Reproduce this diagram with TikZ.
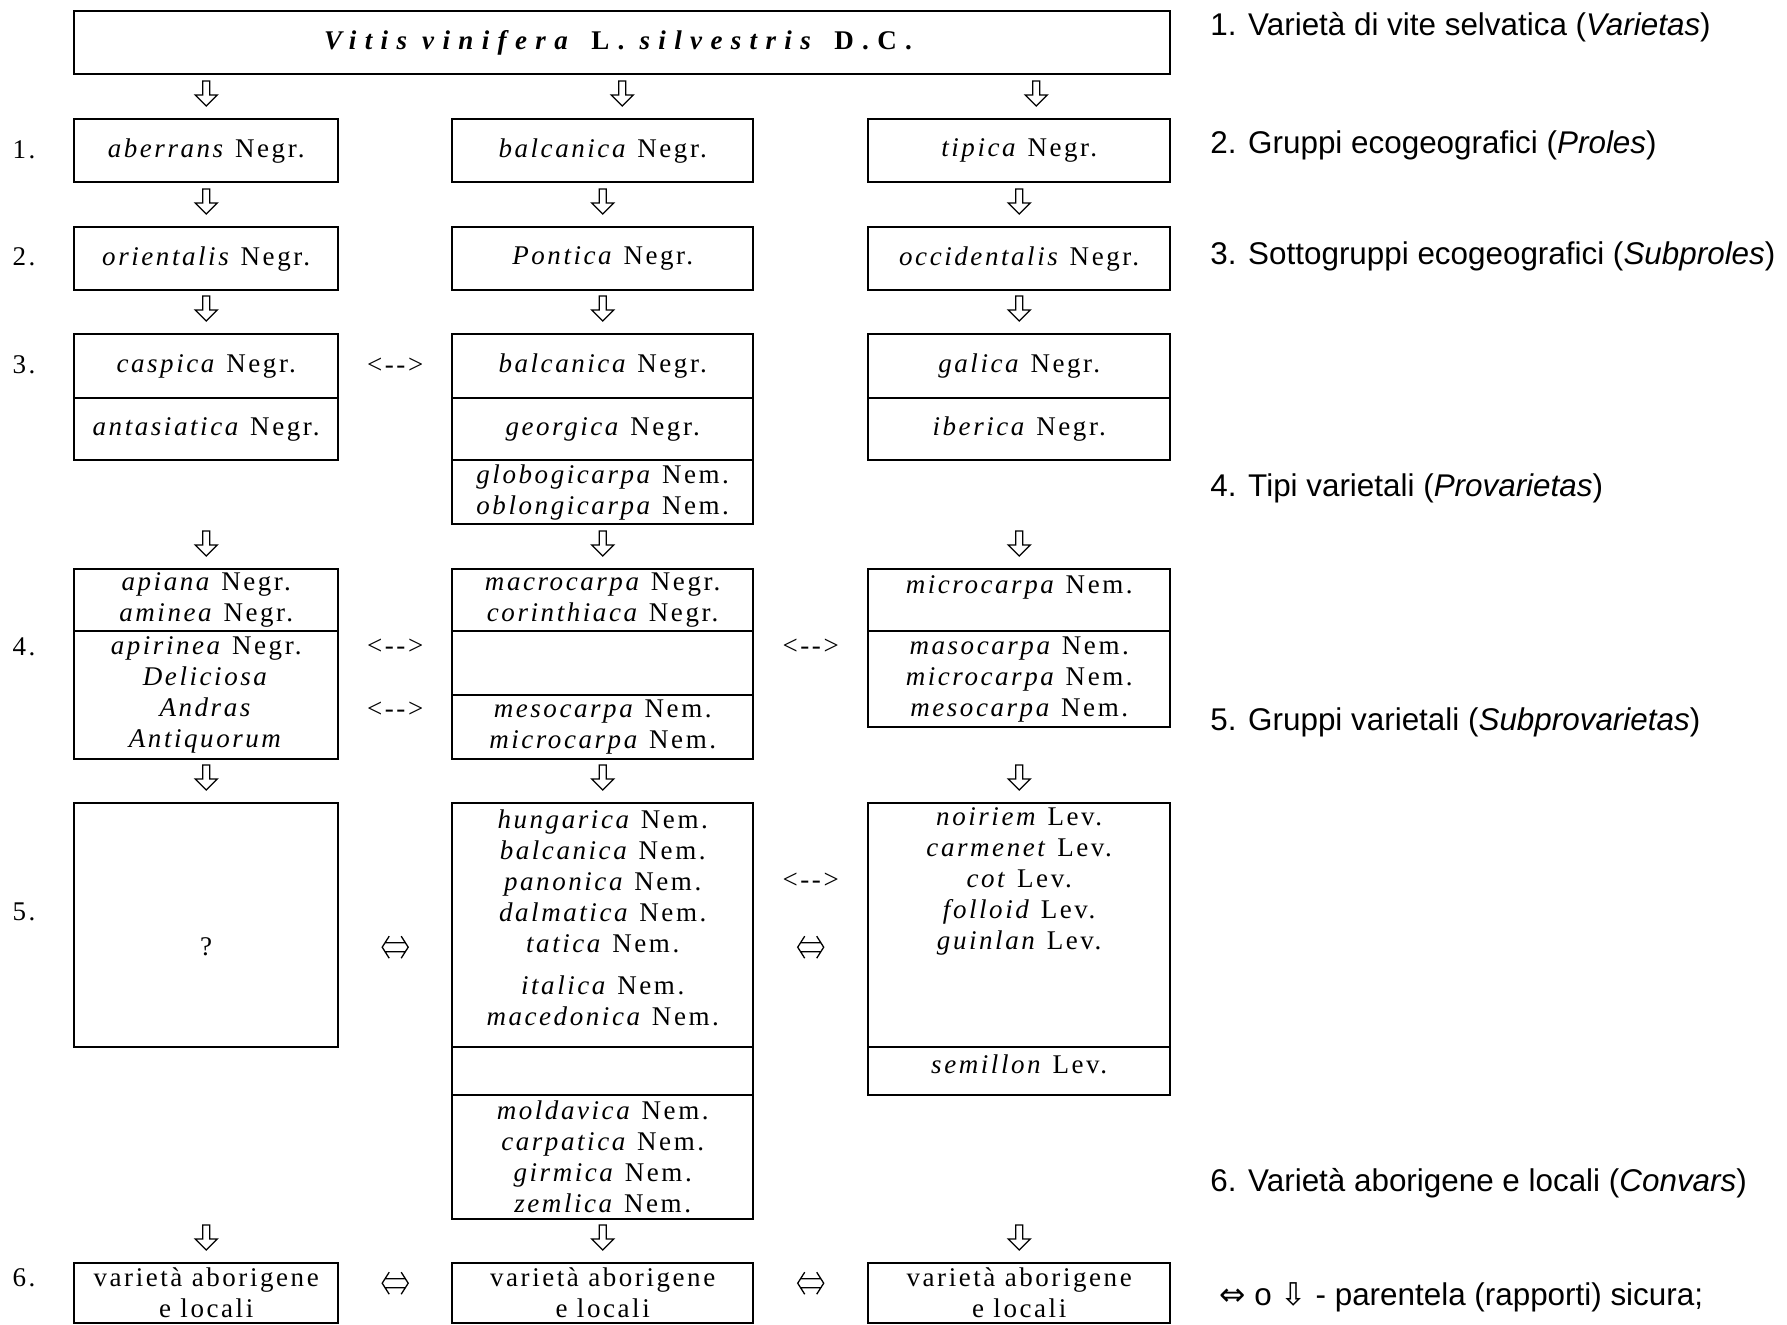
\documentclass[tikz,border=0pt]{standalone}
\usepackage{fontspec}
\setmainfont{Liberation Serif}
\newfontfamily\cellfont[LetterSpace=9.5]{Liberation Serif}
\newfontfamily\titlefont[LetterSpace=31]{Liberation Serif}
\newfontfamily\legfont{Liberation Sans}
\newfontfamily\symfont{DejaVu Sans}
\usetikzlibrary{calc}

\newcommand{\csize}{\fontsize{13.5}{15.5}\selectfont}

\begin{document}
\begin{tikzpicture}[x=0.5pt, y=-0.5pt,
    cell/.style={draw, line width=1.2pt, inner sep=0pt, anchor=north west,
      align=center, font=\cellfont\csize},
    colA/.style={cell, minimum width=132pt},
    colB/.style={cell, minimum width=150.5pt},
    colC/.style={cell, minimum width=151pt},
    rowlab/.style={inner sep=0pt, font=\cellfont\csize},
    hyp/.style={inner sep=0pt, font=\cellfont\csize},
    leg/.style={anchor=base west, inner sep=0pt,
      font=\legfont\fontsize{15.7}{18}\selectfont},
    arr/.style={line width=0.65pt, line join=miter},
    hdown/.style={to path={(\tikztotarget) ++(0,-12) -- ++(-11,-11) -- ++(7.5,0)
      -- ++(0,-14) -- ++(7,0) -- ++(0,14) -- ++(7.5,0) -- cycle}},
    hboth/.style={to path={($(\tikztostart)!.5!(\tikztotarget)$) coordinate (hb)
      (hb) ++(-6,-11) -- ++(-7,11) -- ++(7,11)
      (hb) ++(6,-11) -- ++(7,11) -- ++(-7,11)
      (hb) ++(-10,-4.5) -- ++(20,0)
      (hb) ++(-10,4.5) -- ++(20,0)}}
  ]
  \path[fill=white] (0,0) rectangle (1787,1325);

  % title box
  \node[cell, minimum width=548pt, minimum height=31.5pt, font=\titlefont\csize] (top) at (73,10)
    {\textbf{\textit{Vitis vinifera} L. \textit{silvestris} D.C.}};

  % level 1 and 2
  \node[colA, minimum height=31.5pt] (r1a) at (73,118) {\textit{aberrans} Negr.};
  \node[colB, minimum height=31.5pt] (r1b) at (451,118) {\textit{balcanica} Negr.};
  \node[colC, minimum height=31.5pt] (r1c) at (867,118) {\textit{tipica} Negr.};
  \node[colA, minimum height=31.5pt] (r2a) at (73,226) {\textit{orientalis} Negr.};
  \node[colB, minimum height=31.5pt] (r2b) at (451,226) {\textit{Pontica} Negr.};
  \node[colC, minimum height=31.5pt] (r2c) at (867,226) {\textit{occidentalis} Negr.};

  % level 3
  \node[colA, minimum height=32pt] (r3a1) at (73,333) {\textit{caspica} Negr.};
  \node[colA, minimum height=31pt] (r3a2) at (73,397) {\textit{antasiatica} Negr.};
  \node[colB, minimum height=32pt] (r3b1) at (451,333) {\textit{balcanica} Negr.};
  \node[colB, minimum height=31pt] (r3b2) at (451,397) {\textit{georgica} Negr.};
  \node[colB, minimum height=32pt] (r3b3) at (451,459)
    {\textit{globogicarpa} Nem.\\\textit{oblongicarpa} Nem.};
  \node[colC, minimum height=32pt] (r3c1) at (867,333) {\textit{galica} Negr.};
  \node[colC, minimum height=31pt] (r3c2) at (867,397) {\textit{iberica} Negr.};

  % level 4
  \node[colA, minimum height=31pt] (r4a1) at (73,568)
    {\textit{apiana} Negr.\\\textit{aminea} Negr.};
  \node[colA, minimum height=64pt] (r4a2) at (73,630)
    {\textit{apirinea} Negr.\\\textit{Deliciosa}\\\textit{Andras}\\\textit{Antiquorum}};
  \node[colB, minimum height=31pt] (r4b1) at (451,568)
    {\textit{macrocarpa} Negr.\\\textit{corinthiaca} Negr.};
  \node[colB, minimum height=32pt] (r4b2) at (451,630) {};
  \node[colB, minimum height=32pt] (r4b3) at (451,694)
    {\textit{mesocarpa} Nem.\\\textit{microcarpa} Nem.};
  \node[colC, minimum height=31pt] (r4c1) at (867,568) {\textit{microcarpa} Nem.\\~};
  \node[colC, minimum height=48pt] (r4c2) at (867,630)
    {\textit{masocarpa} Nem.\\\textit{microcarpa} Nem.\\\textit{mesocarpa} Nem.};

  % level 5
  \node[colA, minimum height=122pt] (r5a) at (73,802) {~\\[15pt]?};
  \node[colB, minimum height=122pt] (r5b1) at (451,802)
    {\textit{hungarica} Nem.\\\textit{balcanica} Nem.\\\textit{panonica} Nem.\\
     \textit{dalmatica} Nem.\\\textit{tatica} Nem.\\[5.5pt]\textit{italica} Nem.\\
     \textit{macedonica} Nem.\\[-8pt]~};
  \node[colB, minimum height=24pt] (r5b2) at (451,1046) {};
  \node[colB, minimum height=62pt] (r5b3) at (451,1094)
    {\textit{moldavica} Nem.\\\textit{carpatica} Nem.\\\textit{girmica} Nem.\\\textit{zemlica} Nem.};
  \node[colC, minimum height=122pt] (r5c1) at (867,802)
    {\textit{noiriem} Lev.\\\textit{carmenet} Lev.\\\textit{cot} Lev.\\\textit{folloid} Lev.\\
     \textit{guinlan} Lev.\\~\\~\\~};
  \node[colC, minimum height=24pt, text depth=7pt] (r5c2) at (867,1046) {\textit{semillon} Lev.};

  % level 6
  \node[colA, minimum height=30pt] (r6a) at (73,1262) {varietà aborigene\\e locali};
  \node[colB, minimum height=30pt] (r6b) at (451,1262) {varietà aborigene\\e locali};
  \node[colC, minimum height=30pt] (r6c) at (867,1262) {varietà aborigene\\e locali};

  % level numbers
  \node[rowlab] (n1) at (24,150) {1.};
  \node[rowlab] (n2) at (24,257) {2.};
  \node[rowlab] (n3) at (24,365) {3.};
  \node[rowlab] (n4) at (24,647) {4.};
  \node[rowlab] (n5) at (24,912) {5.};
  \node[rowlab] (n6) at (24,1278) {6.};

  % certain descent
  \coordinate (tr) at ([xshift=207pt]top.south);
  \coordinate (a1b) at (top.south |- r1b.north);
  \coordinate (a1c) at (tr |- r1c.north);
  \draw[arr] (top.south) to[hdown] (r1a.north);
  \draw[arr] (top.south) to[hdown] (a1b);
  \draw[arr] (tr) to[hdown] (a1c);
  \foreach \c in {a,b,c} {
    \draw[arr] (r1\c.south) to[hdown] (r2\c.north);
    \draw[arr] (r2\c.south) to[hdown] (r3\c1.north);
  }
  \draw[arr] (r3a2.south) to[hdown] (r4a1.north);
  \draw[arr] (r3b3.south) to[hdown] (r4b1.north);
  \draw[arr] (r3c2.south) to[hdown] (r4c1.north);
  \draw[arr] (r4a2.south) to[hdown] (r5a.north);
  \draw[arr] (r4b3.south) to[hdown] (r5b1.north);
  \draw[arr] (r4c2.south) to[hdown] (r5c1.north);
  \draw[arr] (r5a.south) to[hdown] (r6a.north);
  \draw[arr] (r5b3.south) to[hdown] (r6b.north);
  \draw[arr] (r5c2.south) to[hdown] (r6c.north);
  \draw[arr] ([yshift=-11pt]r5a.east) to[hboth] ([yshift=-11pt]r5b1.west);
  \draw[arr] ([yshift=-11pt]r5b1.east) to[hboth] ([yshift=-11pt]r5c1.west);
  \draw[arr] ([yshift=5pt]r6a.east) to[hboth] ([yshift=5pt]r6b.west);
  \draw[arr] ([yshift=5pt]r6b.east) to[hboth] ([yshift=5pt]r6c.west);

  % hypothetical links
  \path (r3a1.east) -- node[hyp] {<-{}->} (r3b1.west);
  \path ([yshift=-8.5pt]r4a2.north east) -- node[hyp] {<-{}->} ([yshift=-8.5pt]r4b2.north west);
  \path ([yshift=-40pt]r4a2.north east) -- node[hyp] {<-{}->} ([yshift=-8pt]r4b3.north west);
  \path ([yshift=-8.5pt]r4b2.north east) -- node[hyp] {<-{}->} ([yshift=-8.5pt]r4c2.north west);
  \path ([yshift=-39.5pt]r5b1.north east) -- node[hyp] {<-{}->} ([yshift=-39.5pt]r5c1.north west);

  % legend
  \node[leg] (l1) at (1210,36) {1. Varietà di vite selvatica (\textit{Varietas})};
  \node[leg] (l2) at (1210,154) {2. Gruppi ecogeografici (\textit{Proles})};
  \node[leg] (l3) at (1210,265) {3. Sottogruppi ecogeografici (\textit{Subproles})};
  \node[leg] (l4) at (1210,497) {4. Tipi varietali (\textit{Provarietas})};
  \node[leg] (l5) at (1210,730) {5. Gruppi varietali (\textit{Subprovarietas})};
  \node[leg] (l6) at (1210,1191) {6. Varietà aborigene e locali (\textit{Convars})};
  \node[leg] (l7) at (1219,1305) {{\symfont ⇔} o {\symfont ⇩} - parentela (rapporti) sicura;};

  \useasboundingbox (0,0) rectangle (1787,1325);
\end{tikzpicture}
\end{document}
